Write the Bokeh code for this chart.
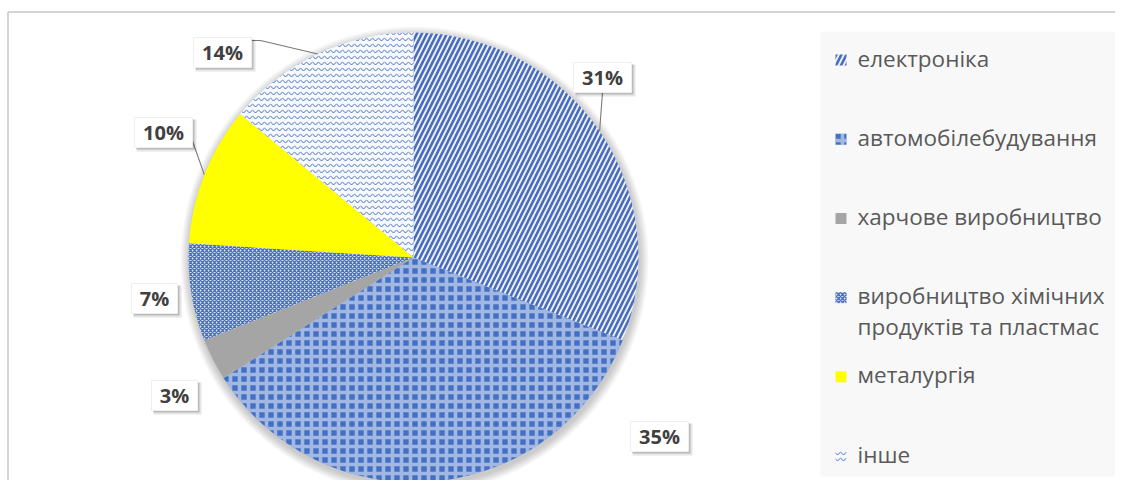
import math
import textwrap
from bokeh.plotting import figure
from bokeh.models import Range1d
from bokeh.embed import file_html
from bokeh.resources import INLINE
from bokeh.core.properties import value

# ---- data ----
categories = ["електроніка", "автомобілебудування", "харчове виробництво",
              "виробництво хімічних продуктів та пластмас", "металургія", "інше"]
shares = [31, 35, 3, 7, 10, 14]

# ---- styles (per category) ----
styles = [
    dict(fill_color="#edf3fc", hatch_pattern="/", hatch_color="#4a6cc0", hatch_scale=10, hatch_weight=2.6,
         hatch_alpha=1.0),
    dict(fill_color="#4470c4", hatch_pattern="+", hatch_color="white", hatch_scale=9, hatch_weight=3.6,
         hatch_alpha=0.5),
    dict(fill_color="#a5a5a5", hatch_pattern=" ", hatch_color="#a5a5a5", hatch_scale=8, hatch_weight=1,
         hatch_alpha=1.0),
    dict(fill_color="#d3def2", hatch_pattern="x", hatch_color="#4a6cc0", hatch_scale=4, hatch_weight=1.3,
         hatch_alpha=1.0),
    dict(fill_color="#ffff00", hatch_pattern=" ", hatch_color="#ffff00", hatch_scale=8, hatch_weight=1,
         hatch_alpha=1.0),
    dict(fill_color="#f6f9fd", hatch_pattern="v", hatch_color="#4a6cc0", hatch_scale=6, hatch_weight=1,
         hatch_alpha=1.0),
]

# ---- layout (image pixel coordinates) ----
W, H = 1115, 480
CX, CY, R = 413, 257, 225
label_centers = [(602, 77), (659, 436), (174, 395), (154, 298), (163, 132), (222, 52)]
# leader start point relative to label box centre: (dx, dy) in pixels, or None
leader_starts = [(0, 15), None, None, None, (26, 0), (27, -12)]
legend_x, legend_first, legend_step = 857, 59.5, 79.2


def Y(y):
    return 496 - y


p = figure(width=W, height=H, x_range=Range1d(0, W), y_range=Range1d(496 - H, 496),
           output_backend="svg", toolbar_location=None, min_border=0,
           x_axis_location=None, y_axis_location=None)
p.grid.visible = False
p.outline_line_color = None
p.background_fill_color = "white"
p.border_fill_color = "white"

# outer chart border (top and left visible)
p.segment(x0=[7.5, 7.5], y0=[Y(11.5), Y(11.5)], x1=[W, 7.5], y1=[Y(11.5), Y(H)],
          line_color="#c6c6c6", line_width=1.5)

# legend background
p.quad(left=[820], right=[1123], top=[Y(31)], bottom=[Y(476)], fill_color="#f8f8f8", line_color=None)

# soft pie shadow
for k in range(1, 10):
    p.circle(x=[CX + 1], y=[Y(CY + 3)], radius=R + k, fill_color="black", fill_alpha=0.022, line_color=None)

total = sum(shares)
cum = 0
mids = []
for v, st in zip(shares, styles):
    a0 = 90 - 360 * cum / total
    a1 = 90 - 360 * (cum + v) / total
    mids.append(90 - 360 * (cum + v / 2) / total)
    cum += v
    p.wedge(x=[CX], y=[Y(CY)], radius=R, start_angle=a0, end_angle=a1,
            start_angle_units="deg", end_angle_units="deg",
            direction="clock", line_color=None, **st)

# data labels
for v, (lx, ly), ls, ma in zip(shares, label_centers, leader_starts, mids):
    txt = f"{v}%"
    bw = 22 + 12 * len(txt)
    bh = 30
    if ls is not None:
        ex = CX + R * math.cos(math.radians(ma))
        ey = Y(CY) + R * math.sin(math.radians(ma))
        sx, sy = lx + ls[0], Y(ly + ls[1])
        if ls[0] != 0 and ls[1] != 0:
            xs, ys = [sx, sx + 11, ex], [sy, sy, ey]
        else:
            xs, ys = [sx, ex], [sy, ey]
        p.line(x=xs, y=ys, line_color="#7a7a7a", line_width=1.1)
    p.rect(x=[lx + 3], y=[Y(ly + 3)], width=bw + 2, height=bh + 2, fill_color="black",
           fill_alpha=0.10, line_color=None)
    p.rect(x=[lx + 2], y=[Y(ly + 2)], width=bw, height=bh, fill_color="black",
           fill_alpha=0.18, line_color=None)
    p.rect(x=[lx], y=[Y(ly)], width=bw, height=bh, fill_color="white", line_color="#eeeeee")
    p.text(x=[lx], y=[Y(ly)], text=[txt], text_align="center", text_baseline="middle",
           text_font=value("Open Sans"), text_font_style="bold", text_font_size="20px",
           text_color="#404040")

# legend
for i, (cat, st) in enumerate(zip(categories, styles)):
    mid = legend_first + legend_step * i
    p.rect(x=[840.5], y=[Y(mid)], width=11, height=11, line_color=None, **st)
    for j, line in enumerate(textwrap.wrap(cat, 22)):
        p.text(x=[legend_x], y=[Y(mid - 2 + 31 * j)], text=[line], text_align="left",
               text_baseline="middle", text_font=value("Open Sans"),
               text_font_size="22.5px", text_color="#595959")

open("out.html", "w").write(file_html(p, INLINE))
